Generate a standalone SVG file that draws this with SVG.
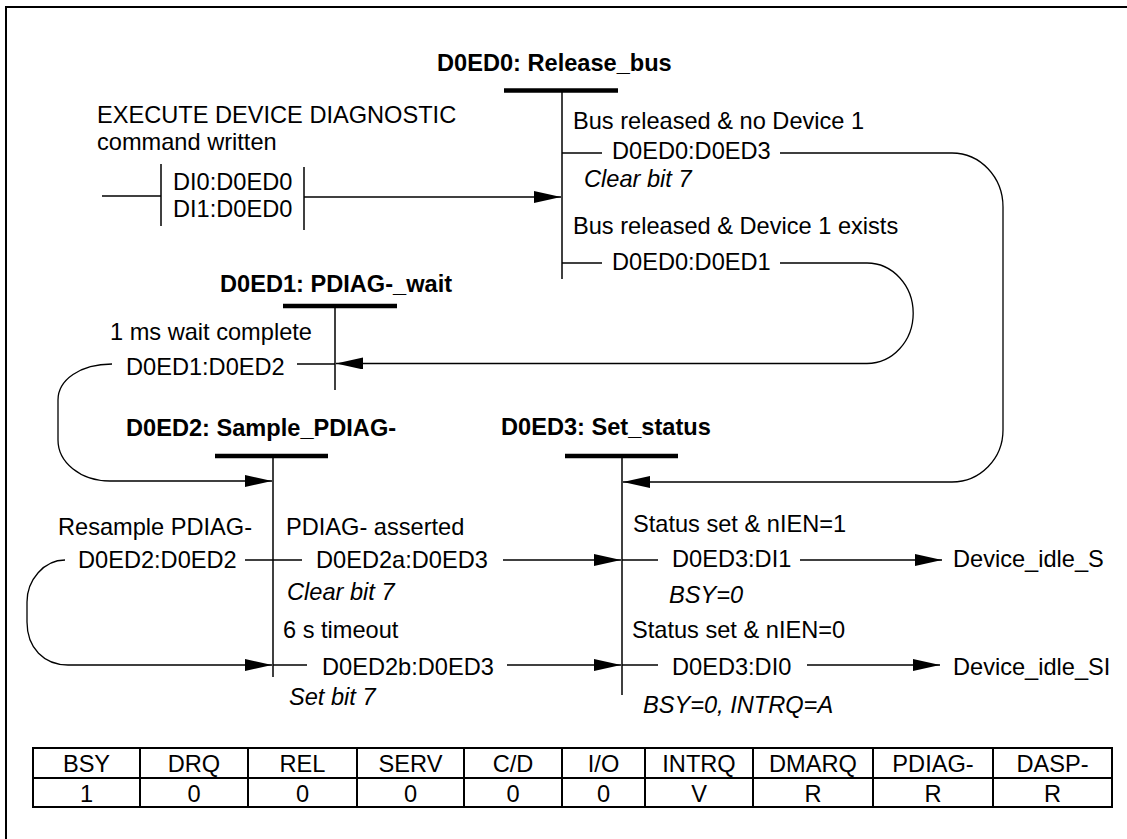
<svg xmlns="http://www.w3.org/2000/svg" width="1127" height="839" viewBox="0 0 1127 839">
<style>
text{font-family:"Liberation Sans",Arial,sans-serif;font-size:23.6px;fill:#000}
.b{font-weight:bold}
.i{font-style:italic}
.c{text-anchor:middle}
.bar{stroke:#000;stroke-width:4.5;fill:none}
.st{stroke:#000;stroke-width:1.5;fill:none}
.ln{stroke:#000;stroke-width:1.3;fill:none}
.tb{stroke:#000;stroke-width:2;fill:none}
</style>
<defs>
<marker id="ah" markerUnits="userSpaceOnUse" markerWidth="28" markerHeight="12" refX="27" refY="6" orient="auto">
<path d="M0,0 L27,6 L0,12 z" fill="#000"/>
</marker>
</defs>
<rect x="6" y="7" width="1300" height="1000" fill="none" stroke="#000" stroke-width="2"/>

<g id="D0ED0">
<text class="b" x="437" y="71">D0ED0: Release_bus</text>
<line class="bar" x1="504" y1="90.5" x2="618" y2="90.5"/>
<line class="st" x1="562" y1="90" x2="562" y2="279"/>
</g>
<g id="D0ED1">
<text class="b" x="220" y="292">D0ED1: PDIAG-_wait</text>
<line class="bar" x1="283" y1="306" x2="397" y2="306"/>
<line class="st" x1="335" y1="306" x2="335" y2="390"/>
</g>
<g id="D0ED2">
<text class="b" x="126" y="436">D0ED2: Sample_PDIAG-</text>
<line class="bar" x1="215" y1="456" x2="328" y2="456"/>
<line class="st" x1="273" y1="456" x2="273" y2="677"/>
</g>
<g id="D0ED3">
<text class="b" x="501" y="435">D0ED3: Set_status</text>
<line class="bar" x1="565" y1="456" x2="678" y2="456"/>
<line class="st" x1="622" y1="456" x2="622" y2="695"/>
</g>
<g id="entry">
<text x="97" y="123">EXECUTE DEVICE DIAGNOSTIC</text>
<text x="97" y="150">command written</text>
<line class="st" x1="161" y1="164" x2="161" y2="226"/>
<line class="st" x1="304" y1="167" x2="304" y2="230"/>
<text x="173" y="190">DI0:D0ED0</text>
<text x="173" y="217">DI1:D0ED0</text>
</g>
<g id="Device_idle_S"><text x="953" y="567">Device_idle_S</text></g>
<g id="Device_idle_SI"><text x="953" y="675">Device_idle_SI</text></g>

<g id="connectors">
<line class="ln" x1="102" y1="196" x2="161" y2="196"/>
<line class="ln" x1="304" y1="197" x2="561" y2="197" marker-end="url(#ah)"/>

<line class="ln" x1="562" y1="153" x2="602" y2="153"/>
<path class="ln" d="M780 153 H952 A51 54 0 0 1 1003 207 V430 A51 52 0 0 1 952 482 H623" marker-end="url(#ah)"/>
<line class="ln" x1="562" y1="263" x2="602" y2="263"/>
<path class="ln" d="M780 263 H867 A46 50 0 0 1 867 363.5 H336" marker-end="url(#ah)"/>

<line class="ln" x1="297" y1="364" x2="335" y2="364"/>
<path class="ln" d="M112 364 C80 364 58 380 58 400 V440 C58 462 80 481 110 481 H272" marker-end="url(#ah)"/>

<line class="ln" x1="245" y1="560" x2="302" y2="560"/>
<path class="ln" d="M65 560 C44 560 27 580 27 602 V622 C27 648 44 665 68 665 H272" marker-end="url(#ah)"/>
<line class="ln" x1="503" y1="560" x2="621" y2="560" marker-end="url(#ah)"/>
<line class="ln" x1="273" y1="665" x2="307" y2="665"/>
<line class="ln" x1="507" y1="665" x2="621" y2="665" marker-end="url(#ah)"/>

<line class="ln" x1="622" y1="560" x2="658" y2="560"/>
<line class="ln" x1="800" y1="560" x2="942" y2="560" marker-end="url(#ah)"/>
<line class="ln" x1="622" y1="665" x2="658" y2="665"/>
<line class="ln" x1="807" y1="665" x2="940" y2="665" marker-end="url(#ah)"/>

<text x="573" y="129">Bus released &amp; no Device 1</text>
<text x="612" y="159">D0ED0:D0ED3</text>
<text class="i" x="584" y="187">Clear bit 7</text>
<text x="573" y="234">Bus released &amp; Device 1 exists</text>
<text x="612" y="270">D0ED0:D0ED1</text>
<text x="110" y="340">1 ms wait complete</text>
<text x="126" y="375">D0ED1:D0ED2</text>
<text x="58" y="535">Resample PDIAG-</text>
<text x="78" y="568">D0ED2:D0ED2</text>
<text x="286" y="535">PDIAG- asserted</text>
<text x="316" y="568">D0ED2a:D0ED3</text>
<text class="i" x="287" y="600">Clear bit 7</text>
<text x="283" y="638">6 s timeout</text>
<text x="322" y="675">D0ED2b:D0ED3</text>
<text class="i" x="289" y="705">Set bit 7</text>
<text x="633" y="532">Status set &amp; nIEN=1</text>
<text x="672" y="567">D0ED3:DI1</text>
<text class="i" x="669" y="603">BSY=0</text>
<text x="632" y="638">Status set &amp; nIEN=0</text>
<text x="672" y="675">D0ED3:DI0</text>
<text class="i" x="643" y="713">BSY=0, INTRQ=A</text>
</g>

<g id="table">
<rect class="tb" x="33" y="748" width="1079" height="59" stroke-width="2.5"/>
<line class="tb" x1="33" y1="778" x2="1112" y2="778"/>
<line class="tb" x1="140" y1="748" x2="140" y2="807"/>
<line class="tb" x1="248" y1="748" x2="248" y2="807"/>
<line class="tb" x1="357" y1="748" x2="357" y2="807"/>
<line class="tb" x1="464" y1="748" x2="464" y2="807"/>
<line class="tb" x1="562" y1="748" x2="562" y2="807"/>
<line class="tb" x1="645" y1="748" x2="645" y2="807"/>
<line class="tb" x1="753" y1="748" x2="753" y2="807"/>
<line class="tb" x1="873" y1="748" x2="873" y2="807"/>
<line class="tb" x1="993" y1="748" x2="993" y2="807"/>
<text class="c" x="86.5" y="772">BSY</text>
<text class="c" x="194" y="772">DRQ</text>
<text class="c" x="302.5" y="772">REL</text>
<text class="c" x="410.5" y="772">SERV</text>
<text class="c" x="513" y="772">C/D</text>
<text class="c" x="603.5" y="772">I/O</text>
<text class="c" x="699" y="772">INTRQ</text>
<text class="c" x="813" y="772">DMARQ</text>
<text class="c" x="933" y="772">PDIAG-</text>
<text class="c" x="1052.5" y="772">DASP-</text>
<text class="c" x="86.5" y="802">1</text>
<text class="c" x="194" y="802">0</text>
<text class="c" x="302.5" y="802">0</text>
<text class="c" x="410.5" y="802">0</text>
<text class="c" x="513" y="802">0</text>
<text class="c" x="603.5" y="802">0</text>
<text class="c" x="699" y="802">V</text>
<text class="c" x="813" y="802">R</text>
<text class="c" x="933" y="802">R</text>
<text class="c" x="1052.5" y="802">R</text>
</g>
</svg>
